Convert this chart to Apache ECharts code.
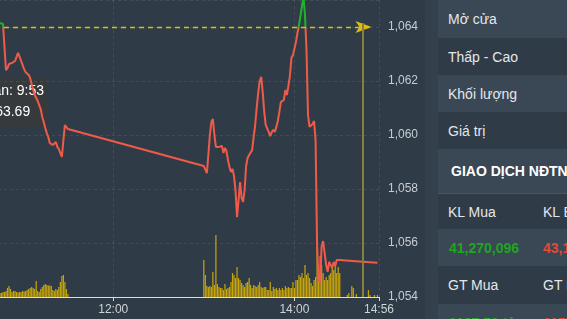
<!DOCTYPE html>
<html>
<head>
<meta charset="utf-8">
<script src="https://cdn.jsdelivr.net/npm/echarts@6/dist/echarts.min.js"></script>
<style>
  html, body { margin:0; padding:0; width:567px; height:319px; overflow:hidden; background:#2f3c48; font-family:"Liberation Sans", Arial, sans-serif; }
  #chart { position:absolute; left:-68px; top:0; width:493px; height:319px; }
  #panel { position:absolute; left:425px; top:0; width:142px; height:319px; background:#34414d; overflow:hidden; }
  .row { position:absolute; left:13px; width:200px; white-space:nowrap; font-size:14px; color:#e4e7ea; }
  .light { background:#3a4754; }
  .dark { background:#2f3b47; }
  .row span { position:absolute; top:50%; transform:translateY(-50%); }
  .c1 { left:10px; }
  .c2 { left:105px; }
  .hdr { font-weight:bold; color:#ffffff; }
  .g { color:#1fa51f; font-weight:bold; }
  .r { color:#e24a3b; font-weight:bold; }
</style>
</head>
<body>
<div id="chart"></div>
<div id="panel">
  <div class="row light" style="top:0;height:38px"><span class="c1">Mở cửa</span></div>
  <div class="row dark" style="top:38px;height:37px"><span class="c1">Thấp - Cao</span></div>
  <div class="row light" style="top:75px;height:37px"><span class="c1">Khối lượng</span></div>
  <div class="row dark" style="top:112px;height:37px"><span class="c1">Giá trị</span></div>
  <div class="row light hdr" style="top:149px;height:44px;border-bottom:1px solid #4a5662"><span style="left:13px">GIAO DỊCH NĐTNN</span></div>
  <div class="row dark" style="top:194px;height:35px"><span class="c1">KL Mua</span><span class="c2">KL Bán</span></div>
  <div class="row light" style="top:229px;height:37px"><span class="c1 g" style="left:11px">41,270,096</span><span class="c2 r">43,145,230</span></div>
  <div class="row dark" style="top:266px;height:38px"><span class="c1">GT Mua</span><span class="c2">GT Bán</span></div>
  <div class="row light" style="top:304px;height:37px"><span class="c1 g" style="left:11px">1107.50 tỷ</span><span class="c2 r">1157.40 tỷ</span></div>
</div>
<script>
// ---- data ----
const morningStart = "10:45";   // one value per minute
const morningPrices = [1064.15, 1064.13, 1064.11, 1064.04, 1062.40, 1062.48, 1062.63, 1062.63, 1062.67, 1062.67,
  1062.74, 1062.89, 1063.04, 1062.89, 1062.74, 1062.59, 1062.44, 1062.33, 1062.26, 1062.22,
  1062.11, 1061.89, 1061.67, 1061.48, 1061.37, 1061.26, 1061.11, 1060.96, 1060.67, 1060.48,
  1060.26, 1060.07, 1059.93, 1059.70, 1059.67, 1059.63, 1059.67, 1059.74, 1059.56, 1059.48,
  1059.33, 1059.19, 1059.81, 1060.37, 1060.33, 1060.22];
const morningVolumes = [4, 4, 5, 5, 6, 9, 11, 8, 5, 6,
  6, 5, 4.5, 5, 5, 6, 5.5, 6, 7, 8,
  9, 10, 9, 8, 16, 6, 5, 8, 10, 12,
  13, 12, 11.5, 11.5, 11, 7, 6, 8, 7, 10,
  15, 21, 22, 15, 8, 3];

const afternoonStart = "13:00"; // one value per minute
const afternoonPrices = [1058.85, 1058.78, 1058.59, 1059.26, 1060.00, 1060.48, 1060.59, 1060.00, 1059.56, 1059.56,
  1059.56, 1059.56, 1059.59, 1059.33, 1059.52, 1059.41, 1059.07, 1058.81, 1058.63, 1058.74,
  1058.48, 1057.93, 1056.96, 1057.59, 1058.26, 1057.67, 1057.52, 1057.96, 1058.85, 1059.15,
  1059.26, 1059.33, 1059.44, 1059.93, 1060.37, 1061.00, 1061.56, 1062.00, 1062.15, 1061.59,
  1060.85, 1060.37, 1060.30, 1060.11, 1059.96, 1060.11, 1060.19, 1060.11, 1060.30, 1060.52,
  1060.85, 1061.22, 1061.22, 1061.30, 1061.67, 1061.48, 1061.81, 1062.19, 1062.85, 1062.96,
  1063.19, 1063.44, 1063.78, 1064.07, 1064.41, 1064.78, 1065.10, 1064.44, 1063.15, 1060.74,
  1060.30, 1060.26, 1060.41, 1060.52, 1059.81, 1055.93, 1054.63, 1054.52, 1055.89, 1056.07,
  1056.00, 1055.19, 1054.93, 1055.30, 1055.19, 1055.07, 1055.30, 1055.15, 1055.37, 1055.33,
  1055.37];
const afternoonVolumes = [37, 22, 11, 10, 11, 10, 25, 12, 62, 13,
  10, 9, 9, 7, 13, 8, 9, 10, 15, 24,
  22, 19, 30, 19, 17, 14, 12, 10, 14, 15,
  19, 12, 9, 12, 11, 10, 12, 15, 10, 9,
  10, 10, 7, 7, 15, 6, 10, 8, 9, 7,
  9, 7, 9, 7, 11, 9, 10, 9, 9, 15,
  9, 17, 17, 22, 20, 24, 19, 32, 22, 24,
  19, 14, 11, 17, 20, 58, 24, 41, 32, 24,
  17, 20, 17, 22, 24, 30, 27, 34, 24, 30,
  24];

const lateTimes  = ["14:45", "14:46", "14:55"];
const latePrices = [1055.31, 1055.27, 1055.27];
const lateVolTimes = ["14:35", "14:36", "14:38", "14:39", "14:41", "14:49", "14:50", "14:53", "14:55"];
const lateVolumes  = [2, 4, 11, 9, 3, 7, 2, 2, 2];

const refPrice = 1064;
const atcTime = "14:45";
const arrowEnd = "14:51";
const axisStart = "10:00";
const axisEnd = "14:56";
const tipLines = ["Thời gian: 9:53", "Giá: 1063.69"];

// ---- build ----
function toMin(s) { const p = s.split(":"); return (+p[0]) * 60 + (+p[1]); }
function fmtMin(v) { const h = Math.floor(v / 60), m = Math.round(v - h * 60); return h + ":" + (m < 10 ? "0" : "") + m; }

const priceData = [], volData = [];
morningPrices.forEach((v, i) => priceData.push([toMin(morningStart) + i, v]));
afternoonPrices.forEach((v, i) => priceData.push([toMin(afternoonStart) + i, v]));
lateTimes.forEach((t, i) => priceData.push([toMin(t), latePrices[i]]));
morningVolumes.forEach((v, i) => volData.push([toMin(morningStart) + i, v]));
afternoonVolumes.forEach((v, i) => volData.push([toMin(afternoonStart) + i, v]));
lateVolTimes.forEach((t, i) => volData.push([toMin(t), lateVolumes[i]]));

const UP = '#22b12a', DOWN = '#f05a48', REFC = '#e2bb0c', ATCC = '#877f3c';
const chart = echarts.init(document.getElementById('chart'), null, { renderer: 'canvas' });
const gridLine = { show: true, lineStyle: { color: 'rgba(255,255,255,0.09)', type: [3, 3], width: 1 } };
chart.setOption({
  animation: false,
  backgroundColor: '#2f3c48',
  grid: { left: 0, right: 46, top: 0, bottom: 22 },
  xAxis: {
    type: 'value', min: toMin(axisStart), max: toMin(axisEnd), interval: 120,
    axisLine: { lineStyle: { color: '#dcdcdc', width: 1 } },
    axisTick: { show: true, length: 4, lineStyle: { color: '#dcdcdc' } },
    axisLabel: { color: '#cfd3d7', fontSize: 12, margin: 7, showMinLabel: false, fontFamily: 'Liberation Sans, Arial', formatter: fmtMin },
    splitLine: gridLine
  },
  yAxis: [{
    type: 'value', position: 'right', min: 1054, max: 1065, interval: 2,
    axisLine: { show: false }, axisTick: { show: false },
    axisLabel: { color: '#c8ccd1', fontSize: 12, margin: 9, showMaxLabel: false, fontFamily: 'Liberation Sans, Arial',
      formatter: v => v.toLocaleString('en-US') },
    splitLine: gridLine
  }, {
    type: 'value', min: 0, max: 297, show: false
  }],
  series: [{
    type: 'bar', yAxisIndex: 1, barWidth: 1.2, data: volData, silent: true,
    itemStyle: { color: '#c9a608' }
  }, {
    type: 'line', yAxisIndex: 0, data: priceData, showSymbol: false, silent: true, z: 3,
    lineStyle: { width: 2, color: DOWN }, itemStyle: { color: DOWN }
  }, {
    // reference price line with arrow
    type: 'line', yAxisIndex: 0, data: [], silent: true, z: 4, color: REFC,
    markLine: {
      silent: true, animation: false, label: { show: false },
      lineStyle: { color: REFC, type: [5, 4], width: 1.4, opacity: 1 },
      itemStyle: { color: REFC },
      data: [[{ coord: [toMin(axisStart), refPrice], symbol: 'none' },
              { coord: [toMin(arrowEnd), refPrice], symbol: 'arrow', symbolSize: [9, 16] }]]
    }
  }, {
    // ATC time marker
    type: 'line', yAxisIndex: 0, data: [], silent: true, z: 2, color: ATCC,
    markLine: {
      silent: true, animation: false, label: { show: false }, symbol: 'none',
      lineStyle: { color: ATCC, type: 'solid', width: 2 },
      data: [[{ coord: [toMin(atcTime), refPrice + 0.15] }, { coord: [toMin(atcTime), 1054] }]]
    }
  }],
  graphic: [{
    type: 'group', z: 100, silent: true,
    children: [
      { type: 'rect', shape: { x: 8, y: 77, width: 107, height: 51, r: 4 }, style: { fill: 'rgba(58,58,58,0.75)' } },
      { type: 'text', x: 18, y: 91, style: { text: tipLines[0], fill: '#ffffff', font: '14px "Liberation Sans", Arial', textVerticalAlign: 'middle' } },
      { type: 'text', x: 18, y: 112, style: { text: tipLines[1], fill: '#ffffff', font: '14px "Liberation Sans", Arial', textVerticalAlign: 'middle' } }
    ]
  }]
});

// colour the price line green above the reference price, red below (split taken from the y scale)
const yRef = chart.convertToPixel({ yAxisIndex: 0 }, refPrice);
const H = chart.getHeight();
const off = Math.min(1, Math.max(0, yRef / H));
const grad = new echarts.graphic.LinearGradient(0, 0, 0, H, [
  { offset: 0, color: UP }, { offset: off, color: UP },
  { offset: off, color: DOWN }, { offset: 1, color: DOWN }
], true);
chart.setOption({ series: [{}, { lineStyle: { color: grad } }] });
</script>
</body>
</html>
